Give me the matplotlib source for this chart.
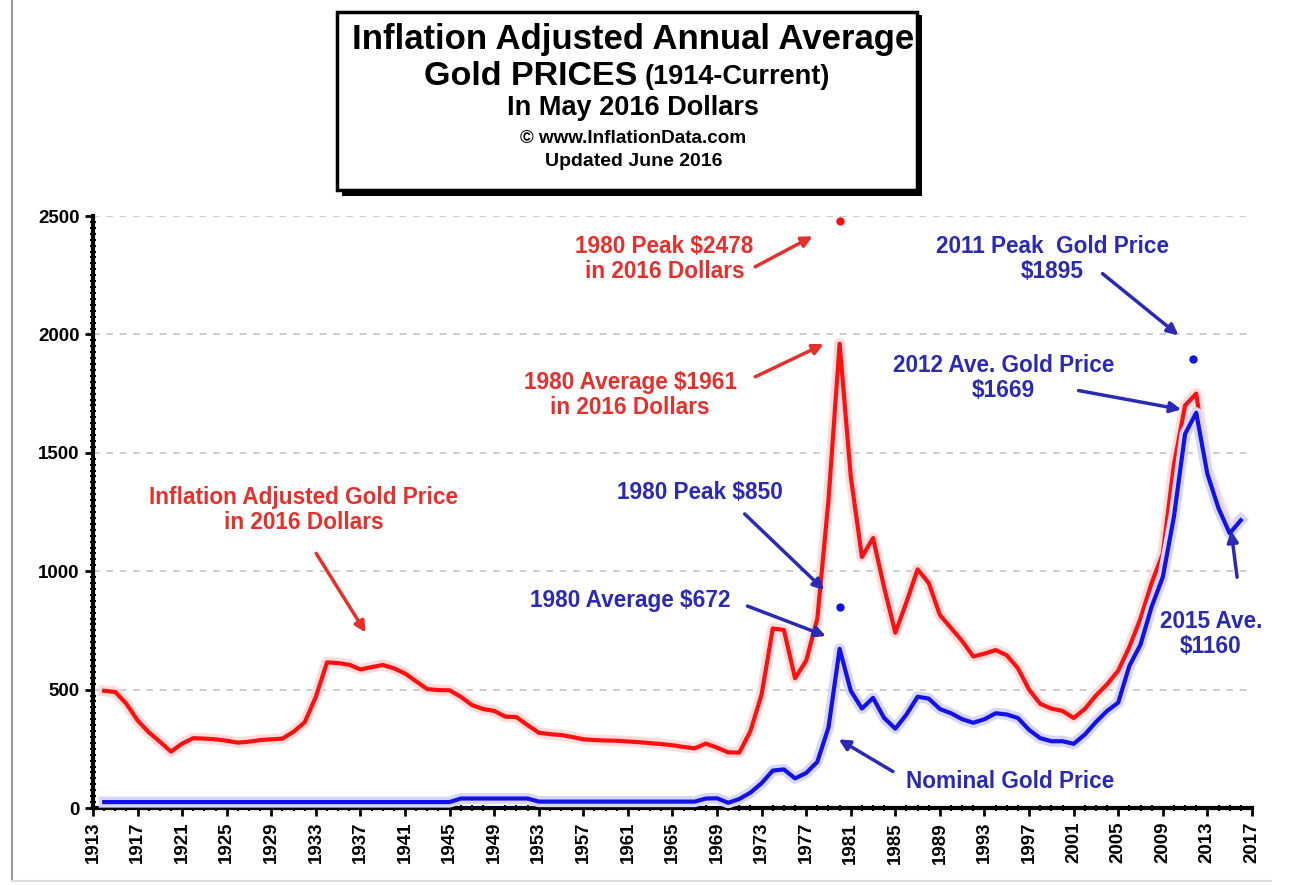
import matplotlib
matplotlib.use('Agg')
import matplotlib.pyplot as plt
import matplotlib.patheffects as pe
from matplotlib.patches import Rectangle
from matplotlib.ticker import MultipleLocator, FixedLocator
import numpy as np

plt.rcParams['font.family'] = ['Liberation Sans', 'DejaVu Sans']

# ---- data ----
years = np.arange(1914, 2017)

real_price = [495, 490, 440, 370, 320, 280, 238, 272, 295, 293,          # 1914-1923
              290, 284, 276, 280, 287, 290, 293, 322, 362, 470,          # 1924-1933
              615, 612, 605, 585, 595, 604, 590, 568, 535, 502,          # 1934-1943
              498, 497, 470, 435, 418, 410, 386, 384, 350, 318,          # 1944-1953
              312, 308, 300, 290, 287, 285, 284, 281, 278, 274,          # 1954-1963
              270, 265, 258, 252, 272, 255, 235, 234, 325, 480,          # 1964-1973
              758, 752, 548, 622, 800, 1300, 1961, 1400, 1060, 1140,     # 1974-1983
              930, 740, 870, 1008, 950, 815, 760, 705, 640, 652,         # 1984-1993
              667, 645, 590, 500, 440, 420, 410, 380, 418, 475,          # 1994-2003
              522, 580, 680, 800, 950, 1075, 1450, 1700, 1750, 1430,     # 2004-2013
              1300, 1175, 1220]                                          # 2014-2016

nominal_price = [25] * 32 + [40] * 7 + [27] * 15 + \
                [40, 41, 22, 38, 65, 105,                                # 1968-1973
                 158, 163, 125, 148, 195, 340, 672, 495, 420, 465,       # 1974-1983
                 380, 335, 395, 470, 462, 418, 400, 375, 360, 375,       # 1984-1993
                 400, 395, 380, 330, 295, 282, 282, 271, 310, 363,       # 1994-2003
                 410, 445, 600, 690, 850, 975, 1230, 1580, 1669, 1411,   # 2004-2013
                 1266, 1160, 1215]                                       # 2014-2016

real_peak = (1980.05, 2478)
nominal_peaks_x = [1980.05, 2011.7]
nominal_peaks_y = [850, 1895]

x_ticks = np.arange(1913, 2018, 4)

red_line = '#ff1010'
blue_line = '#1212e6'
red_txt = '#e6302c'
blue_txt = '#2a2ab4'

fig = plt.figure(figsize=(12.9, 8.85), dpi=100)
ax = fig.add_axes([0.0721, 0.087, 0.8984, 0.6689])

glow_r = [pe.Stroke(linewidth=8, foreground='#ffdcdc'), pe.Normal()]
glow_b = [pe.Stroke(linewidth=8, foreground='#d6d6ff'), pe.Normal()]
ax.plot(years, real_price, color=red_line, lw=3.0, path_effects=glow_r, zorder=3, solid_joinstyle='round')
ax.plot(years, nominal_price, color=blue_line, lw=3.0, path_effects=glow_b, zorder=4, solid_joinstyle='round')
ax.plot(*real_peak, 'o', color=red_line, ms=5, zorder=5)
ax.plot(nominal_peaks_x, nominal_peaks_y, 'o', color=blue_line, ms=5, zorder=5)

ax.set_xlim(1913, 2017)
ax.set_ylim(0, 2500)
ax.xaxis.set_major_locator(FixedLocator(x_ticks))
ax.xaxis.set_minor_locator(MultipleLocator(1))
ax.yaxis.set_major_locator(MultipleLocator(500))
ax.yaxis.set_minor_locator(MultipleLocator(25))
for s in ['top', 'right']:
    ax.spines[s].set_visible(False)
for s in ['left', 'bottom']:
    ax.spines[s].set_linewidth(3)
ax.tick_params(which='major', length=6, width=2, labelsize=13.5)
ax.tick_params(which='minor', length=4, width=1.5, direction='inout')
ax.tick_params(axis='x', which='major', labelrotation=90, pad=4)
for lab in ax.get_xticklabels() + ax.get_yticklabels():
    lab.set_fontweight('bold')
ax.grid(axis='y', which='major', color='#c4c4c4', linestyle=(0, (4, 4)), lw=1.2)

def note(text, xy, color):
    ax.text(xy[0], xy[1], text, color=color, fontsize=16.3, fontweight='bold',
            ha='center', va='center', linespacing=1.1, zorder=6)

def arrow(tail, head, color):
    ax.annotate('', xy=head, xytext=tail,
                arrowprops=dict(arrowstyle='-|>', color=color, lw=2.5, mutation_scale=16),
                zorder=6)

note('1980 Peak $2478\nin 2016 Dollars', (1964.3, 2318), red_txt)
arrow((1972.2, 2280), (1977.8, 2420), red_txt)
note('1980 Average $1961\nin 2016 Dollars', (1961.2, 1744), red_txt)
arrow((1972.2, 1816), (1978.8, 1964), red_txt)
note('Inflation Adjusted Gold Price\nin 2016 Dollars', (1931.9, 1258), red_txt)
arrow((1932.9, 1085), (1937.6, 731), red_txt)

note('1980 Peak $850', (1967.5, 1334), blue_txt)
arrow((1971.3, 1250), (1978.8, 912), blue_txt)
note('1980 Average $672', (1961.2, 878), blue_txt)
arrow((1971.5, 857), (1979.0, 722), blue_txt)
note('Nominal Gold Price', (1995.3, 114), blue_txt)
arrow((1985.0, 148), (1979.7, 296), blue_txt)
note('2011 Peak  Gold Price\n$1895', (1999.1, 2318), blue_txt)
arrow((2003.4, 2264), (2010.6, 1989), blue_txt)
note('2012 Ave. Gold Price\n$1669', (1994.7, 1816), blue_txt)
arrow((2001.2, 1765), (2010.9, 1681), blue_txt)
note('2015 Ave.\n$1160', (2013.3, 735), blue_txt)
arrow((2015.7, 963), (2015.1, 1182), blue_txt)

# title box with drop shadow
fig.patches.append(Rectangle((0.265, 0.778), 0.450, 0.205, transform=fig.transFigure,
                             facecolor='black', edgecolor='none', zorder=1))
fig.patches.append(Rectangle((0.261, 0.785), 0.450, 0.201, transform=fig.transFigure,
                             facecolor='white', edgecolor='black', lw=2.5, zorder=2))
fig.text(0.491, 0.955, 'Inflation Adjusted Annual Average', ha='center', va='center',
         fontsize=25, fontweight='bold', zorder=3)
fig.text(0.494, 0.914, 'Gold PRICES', ha='right', va='center', fontsize=24.5, fontweight='bold', zorder=3)
fig.text(0.500, 0.913, '(1914-Current)', ha='left', va='center', fontsize=19.5, fontweight='bold', zorder=3)
fig.text(0.491, 0.878, 'In May 2016 Dollars', ha='center', va='center', fontsize=19.5, fontweight='bold', zorder=3)
fig.text(0.491, 0.844, '\u00a9 www.InflationData.com', ha='center', va='center', fontsize=13.6, fontweight='bold', zorder=3)
fig.text(0.491, 0.818, 'Updated June 2016', ha='center', va='center', fontsize=14, fontweight='bold', zorder=3)

# thin frame lines at the left and bottom of the picture
fig.add_artist(plt.Line2D([0.009, 0.009], [0.005, 1.0], transform=fig.transFigure, color='#9a9a9a', lw=1.5))
fig.add_artist(plt.Line2D([0.009, 0.985], [0.005, 0.005], transform=fig.transFigure, color='#dddddd', lw=1.5))

fig.savefig('out.png', dpi=100)
